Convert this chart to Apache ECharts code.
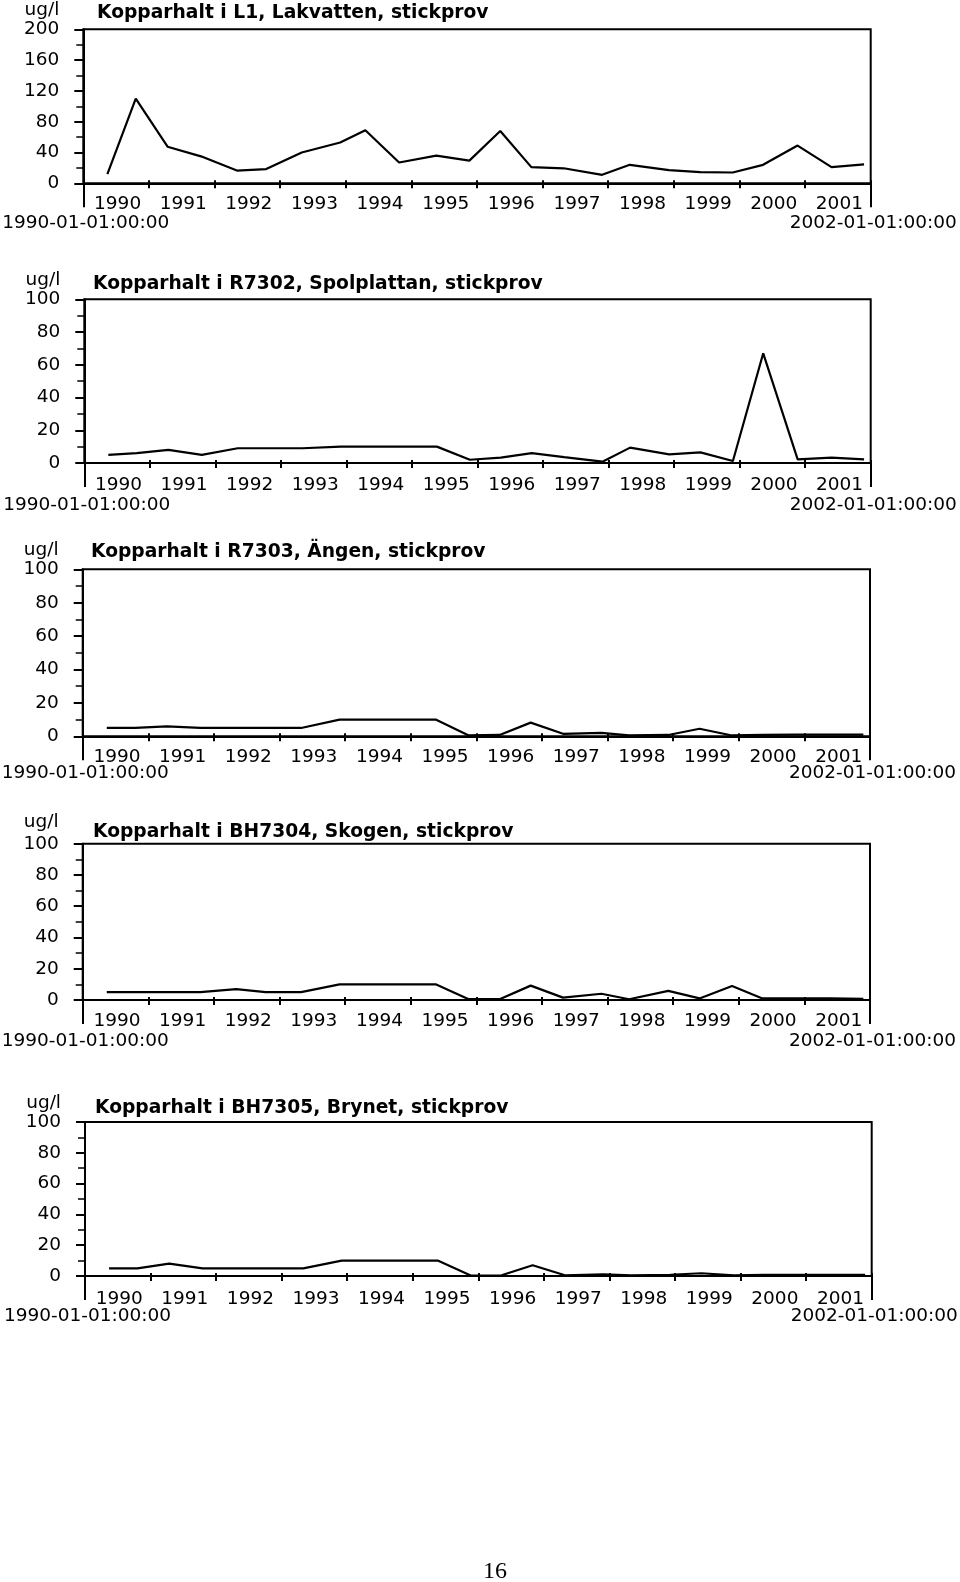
<!DOCTYPE html>
<html><head><meta charset="utf-8">
<script src="https://cdn.jsdelivr.net/npm/echarts@6/dist/echarts.min.js"></script>
<style>html,body{margin:0;padding:0;background:#fff}#c{width:960px;height:1582px}</style>
</head><body><div id="c"></div>
<script>
// ---------- data ----------
const sampleDates = ['1990-05-15','1990-10-20','1991-04-15','1991-10-18','1992-05-05','1992-10-15',
  '1993-05-01','1993-12-01','1994-04-20','1994-10-25','1995-05-20','1995-11-20',
  '1996-05-10','1996-10-30','1997-04-28','1997-11-28','1998-05-01','1998-12-05',
  '1999-05-28','1999-11-25','2000-05-12','2000-11-20','2001-05-28','2001-11-25'];
const yearLabels = ['1990','1991','1992','1993','1994','1995','1996','1997','1998','1999','2000','2001'];
const cuL1     = [12, 110, 47.5, 35, 16.5, 18.5, 40, 53, 69, 27, 36, 29.5, 68, 21, 19.5, 11, 24, 17, 14.5, 14, 24, 49, 21, 24.5];
const cuR7302  = [5, 6, 8, 5, 9, 9, 9, 10, 10, 10, 10, 2, 3.3, 6, 3.6, 0.8, 9.4, 5.3, 6.5, 1.2, 67, 2.2, 3.3, 2.2];
const cuR7303  = [5, 5, 6, 5, 5, 5, 5, 10, 10, 10, 10, 0.5, 0.8, 8.2, 1.5, 2, 0.5, 0.8, 4.5, 0.5, 0.8, 1, 1, 1];
const cuBH7304 = [5, 5, 5, 5, 7, 5, 5, 10, 10, 10, 10, 0.5, 0.5, 9.2, 1.5, 4, 0.5, 5.8, 1, 9, 1, 1, 1, 0.8];
const cuBH7305 = [5, 5, 8, 5, 5, 5, 5, 10, 10, 10, 10, 0.3, 0.5, 7, 0.5, 1, 0.5, 0.8, 1.8, 0.4, 0.8, 0.8, 0.8, 0.8];
const panelTitles = ['Kopparhalt i L1, Lakvatten, stickprov','Kopparhalt i R7302, Spolplattan, stickprov',
  'Kopparhalt i R7303, Ängen, stickprov','Kopparhalt i BH7304, Skogen, stickprov','Kopparhalt i BH7305, Brynet, stickprov'];
const yMaxes = [200, 100, 100, 100, 100];
const yIntervals = [40, 20, 20, 20, 20];
const unitLabel = 'ug/l';
const axisStart = [1990, 1, 1];
const axisEnd = [2002, 1, 1];
const pageNumber = '16';

// ---------- helpers ----------
const DAY = 86400000;
const t0 = Date.UTC(axisStart[0], axisStart[1]-1, axisStart[2]);
const tEnd = Date.UTC(axisEnd[0], axisEnd[1]-1, axisEnd[2]);
const spanDays = Math.round((tEnd - t0) / DAY);
function dayOf(s){ const [y,m,d] = s.split('-').map(Number); return (Date.UTC(y,m-1,d) - t0) / DAY; }
function fmtDay(v){
  const d = new Date(t0 + Math.round(v) * DAY);
  const p = n => String(n).padStart(2,'0');
  return d.getUTCFullYear() + '-' + p(d.getUTCMonth()+1) + '-' + p(d.getUTCDate()) + ':00:00';
}
const seriesValues = [cuL1, cuR7302, cuR7303, cuBH7304, cuBH7305];

const FONT = 'DejaVu Sans';
const FS = 18.5;
const layout = [
  {left:83.3, right:89.3, top:29.3,  height:154,   titleLeft:97, titleTop:3.4,   unitGap:18.8, yearMargin:14.2, dateMargin:30.2},
  {left:84.3, right:89.3, top:299.3, height:163.7, titleLeft:93, titleTop:275,   unitGap:17.1, yearMargin:15.5, dateMargin:32.5},
  {left:82.7, right:90,   top:569.3, height:167,   titleLeft:91, titleTop:542.4, unitGap:19.1, yearMargin:14.5, dateMargin:27.8},
  {left:82.7, right:90,   top:843.7, height:156.3, titleLeft:93, titleTop:822.4, unitGap:21.5, yearMargin:14.8, dateMargin:31.5},
  {left:85,   right:88.3, top:1122,  height:154,   titleLeft:95, titleTop:1099,  unitGap:14.5, yearMargin:16.5, dateMargin:30.5}
];

const grid = [], xAxis = [], yAxis = [], series = [], title = [];
layout.forEach((L, i) => {
  grid.push({left:L.left, right:L.right, top:L.top, height:L.height, show:true, borderColor:'#000', borderWidth:2,
    backgroundColor:'transparent', containLabel:false, outerBoundsMode:'none'});
  // data axis (days since start) with end labels
  xAxis.push({
    type:'value', gridIndex:i, position:'bottom', min:0, max:spanDays, interval:spanDays,
    axisLine:{show:true, onZero:false, lineStyle:{color:'#000', width:2}},
    axisTick:{show:true, length:24, lineStyle:{color:'#000', width:2}},
    axisLabel:{show:true, margin:L.dateMargin, color:'#000', fontFamily:FONT, fontSize:FS, formatter:fmtDay,
      showMinLabel:true, showMaxLabel:true, padding:[0,0,0,5]},
    splitLine:{show:false}
  });
  // year label axis
  xAxis.push({
    type:'category', gridIndex:i, position:'bottom', data:yearLabels, boundaryGap:true, offset:-3,
    axisLine:{show:false},
    axisTick:{show:true, length:8, lineStyle:{color:'#000', width:2}},
    axisLabel:{show:true, interval:0, margin:L.yearMargin, color:'#000', fontFamily:FONT, fontSize:FS, padding:[0,0,0,3]},
    splitLine:{show:false}
  });
  yAxis.push({
    type:'value', gridIndex:i, min:0, max:yMaxes[i], interval:yIntervals[i],
    name:unitLabel, nameLocation:'end', nameGap:L.unitGap,
    nameTextStyle:{color:'#000', fontFamily:FONT, fontSize:FS, align:'right', verticalAlign:'middle', padding:[0,24,0,0]},
    axisLine:{show:true, lineStyle:{color:'#000', width:2}},
    axisTick:{show:true, length:9, lineStyle:{color:'#000', width:2}},
    minorTick:{show:true, splitNumber:2, length:7, lineStyle:{color:'#000', width:1.5}},
    axisLabel:{margin:24, color:'#000', fontFamily:FONT, fontSize:FS},
    splitLine:{show:false}
  });
  series.push({
    type:'line', xAxisIndex:2*i, yAxisIndex:i, symbol:'none', showSymbol:false,
    lineStyle:{color:'#000', width:2.2}, itemStyle:{color:'#000'},
    data: sampleDates.map((d, k) => [dayOf(d), seriesValues[i][k]]),
    animation:false, silent:true
  });
  title.push({text:panelTitles[i], left:L.titleLeft, top:L.titleTop, padding:0,
    textStyle:{color:'#000', fontFamily:FONT, fontSize:18.7, fontWeight:'bold'}});
});
title.push({text:pageNumber, left:483, top:1560, padding:0,
  textStyle:{color:'#000', fontFamily:'Liberation Serif', fontSize:24, fontWeight:'normal'}});

const chart = echarts.init(document.getElementById('c'), null, {renderer:'canvas'});
chart.setOption({backgroundColor:'#fff', animation:false, title, grid, xAxis, yAxis, series});
</script></body></html>
